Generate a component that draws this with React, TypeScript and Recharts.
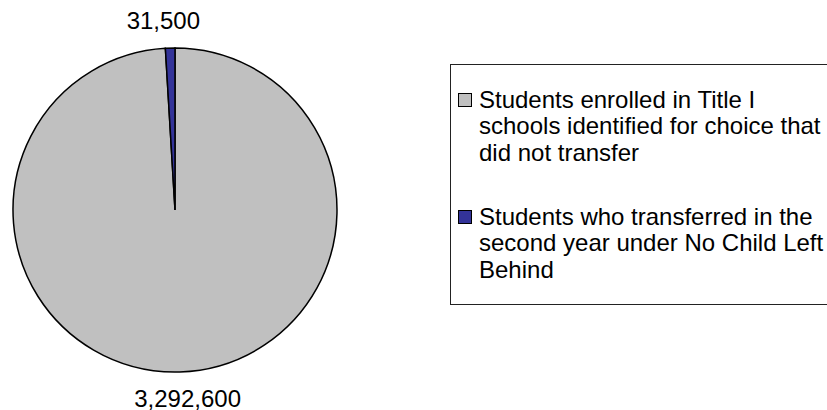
import React from 'react';
import { PieChart, Pie, Cell, Legend } from 'recharts';

const categories = [
  'Students enrolled in Title I schools identified for choice that did not transfer',
  'Students who transferred in the second year under No Child Left Behind',
];
const studentCounts = [3292600, 31500];
const sliceColors = ['#C0C0C0', '#333399'];

const FONT = '"Liberation Sans", Arial, sans-serif';
const RAD = Math.PI / 180;

const data = categories.map((name, i) => ({ name, value: studentCounts[i] }));

const renderLabel = (props: any) => {
  const { cx, cy, midAngle, outerRadius, value } = props;
  const r = outerRadius + 27;
  const cos = Math.cos(-midAngle * RAD);
  const x = cx + r * cos + (cos >= 0 ? 7 : -6);
  const y = cy + r * Math.sin(-midAngle * RAD);
  return (
    <text x={x} y={y + 8} textAnchor="middle" fontSize={24} fontFamily={FONT} fill="#000">
      {value.toLocaleString('en-US')}
    </text>
  );
};

const LegendBox = () => (
  <div
    style={{
      boxSizing: 'border-box',
      width: 380,
      height: 241,
      border: '1px solid #222',
      background: '#fff',
      fontFamily: FONT,
      fontSize: 24,
      lineHeight: '26.5px',
      color: '#000',
      paddingTop: 21.5,
    }}
  >
    {categories.map((name, i) => (
      <div key={name} style={{ display: 'flex', marginBottom: i === 0 ? 37.5 : 0 }}>
        <div
          style={{
            boxSizing: 'border-box',
            width: 14,
            height: 14,
            marginLeft: 7,
            marginTop: 6.5,
            marginRight: 7,
            flex: 'none',
            background: sliceColors[i],
            border: '1.5px solid #000',
          }}
        />
        <div style={{ width: 346 }}>{name}</div>
      </div>
    ))}
  </div>
);

export default function App() {
  return (
    <div style={{ position: 'absolute', left: 0, top: 0, width: 827, height: 410, overflow: 'hidden', background: '#fff' }}>
      <PieChart width={827} height={410} margin={{ top: 0, right: 0, bottom: 0, left: 0 }}>
        <Pie
          data={data}
          dataKey="value"
          nameKey="name"
          cx={175}
          cy={210}
          outerRadius={162}
          startAngle={90}
          endAngle={-270}
          stroke="#000"
          strokeWidth={1.5}
          label={renderLabel}
          labelLine={false}
          isAnimationActive={false}
        >
          {data.map((d, i) => (
            <Cell key={d.name} fill={sliceColors[i]} />
          ))}
        </Pie>
        <Legend
          content={<LegendBox />}
          wrapperStyle={{ left: 450, top: 64, width: 380, right: 'auto', bottom: 'auto' }}
        />
      </PieChart>
    </div>
  );
}
